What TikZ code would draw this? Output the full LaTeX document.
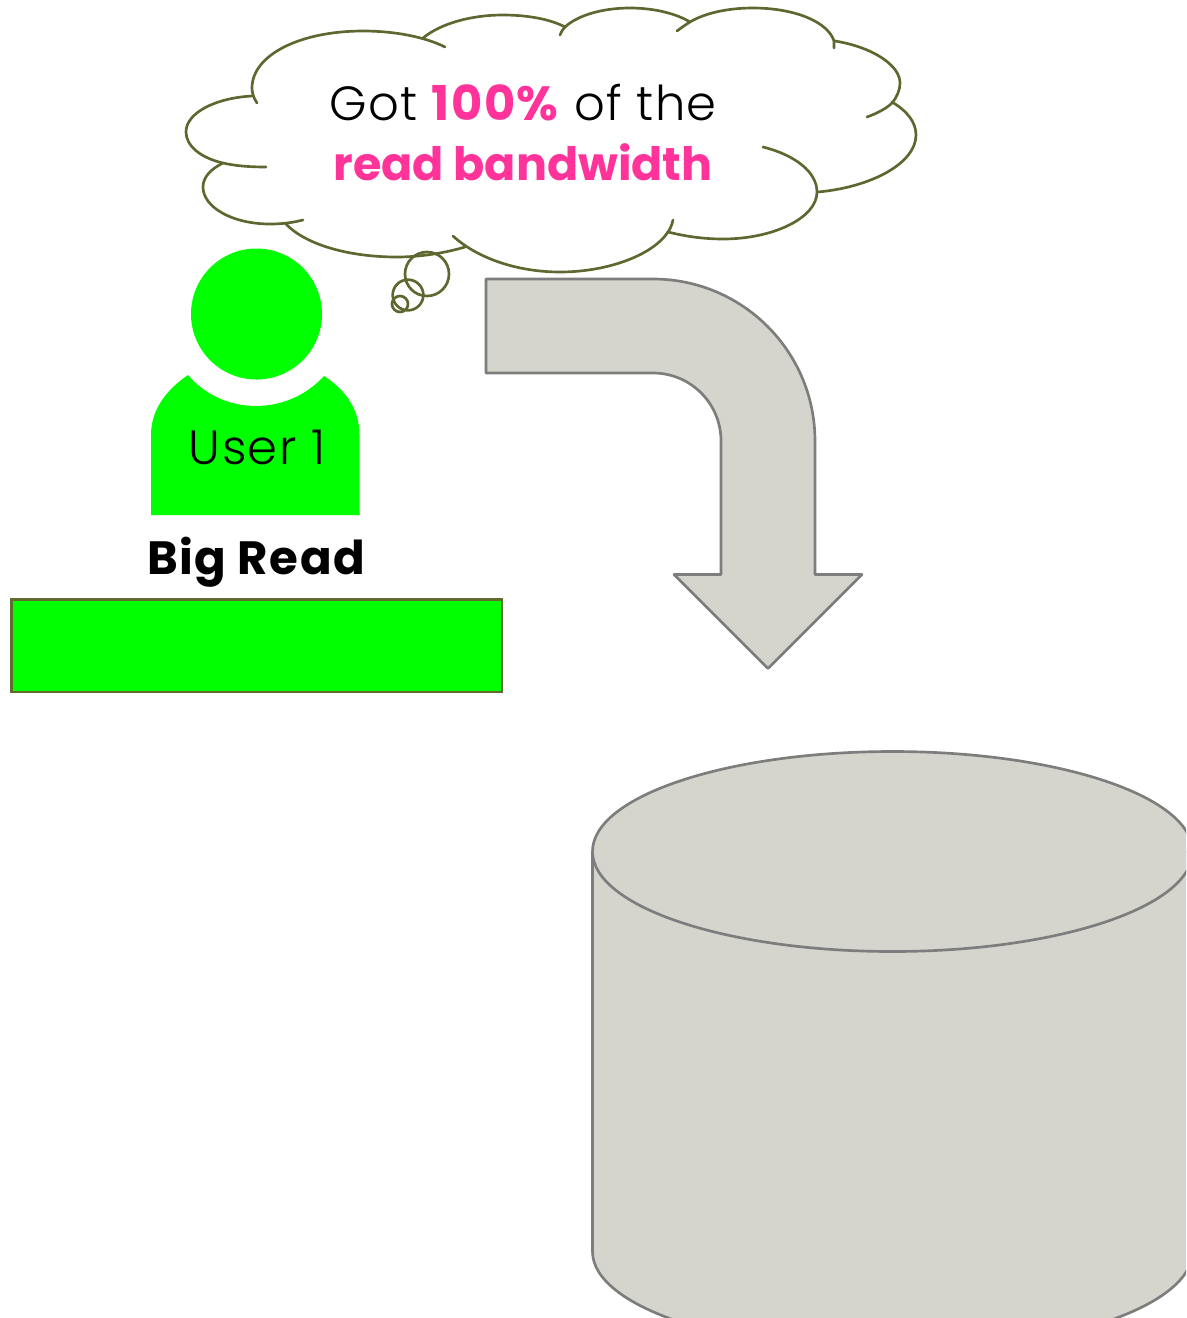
\documentclass[tikz,border=0pt]{standalone}
\usepackage{fontspec}
\setmainfont{Poppins}
\newfontfamily\lightfont{Poppins Light}[BoldFont=Poppins Bold, LetterSpace=2.9]
\newfontfamily\boldfont{Poppins Bold}[LetterSpace=3.3]
\newfontfamily\plainbold{Poppins Bold}
\definecolor{cloudolive}{RGB}{96,102,48}
\definecolor{boxolive}{RGB}{96,108,46}
\definecolor{diskgray}{RGB}{213,213,205}
\definecolor{edgegray}{RGB}{125,125,125}
\definecolor{userlime}{RGB}{0,255,0}
\definecolor{hotpink}{RGB}{255,51,153}
\tikzset{
  lobe/.style={draw=cloudolive, line width=2pt, line cap=round},
  thought/.style={circle, draw=cloudolive, line width=2pt, inner sep=0pt},
  grayshape/.style={draw=edgegray, fill=diskgray, line width=2pt, line join=round},
  lighttext/.style={anchor=base, inner sep=0pt, font=\fontsize{36}{40}\selectfont\lightfont},
  boldtext/.style={anchor=base, inner sep=0pt, font=\fontsize{35}{40}\selectfont\boldfont},
  pinktext/.style={anchor=base, inner sep=0pt, text=hotpink, font=\fontsize{34.5}{40}\selectfont\plainbold}
}
\begin{document}
\begin{tikzpicture}[x=0.75pt, y=-0.75pt]
  \clip (0,0) rectangle (1186,1318);

  % cloud
  \draw[lobe] (257,103) .. controls (253,97) and (252,92) .. (252,88) .. controls (252,55) and (300,31) .. (363,31) .. controls (395,31) and (425,37) .. (445,47);
  \draw[lobe] (423,38) .. controls (440,24) and (470,15) .. (503,15) .. controls (530,15) and (552,20) .. (565,27) .. controls (563,29) and (561,32) .. (560,35);
  \draw[lobe] (565,27) .. controls (578,15) and (603,8) .. (630,8) .. controls (655,8) and (677,14) .. (690,22);
  \draw[lobe] (677,31) .. controls (681,28) and (685,25) .. (690,22) .. controls (705,13) and (728,8) .. (753,8) .. controls (795,8) and (828,22) .. (834,41) .. controls (834,43) and (834,46) .. (834,48);
  \draw[lobe] (835,41) .. controls (872,47) and (900,65) .. (900,83) .. controls (900,90) and (897,97) .. (892,103) .. controls (887,108) and (878,113) .. (867,117);
  \draw[lobe] (892,102) .. controls (907,111) and (916,122) .. (916,135) .. controls (916,163) and (872,187) .. (818,192);
  \draw[lobe] (763,147) .. controls (795,155) and (817,172) .. (817,192) .. controls (817,218) and (773,239) .. (723,239) .. controls (702,239) and (684,236) .. (668,232) .. controls (670,229) and (672,225) .. (673,220);
  \draw[lobe] (668,232) .. controls (652,256) and (606,272) .. (560,272) .. controls (517,272) and (477,258) .. (453,236);
  \draw[lobe] (465,247) .. controls (445,253) and (420,257) .. (397,257) .. controls (345,257) and (303,243) .. (285,223);
  \draw[lobe] (303,220) .. controls (295,222) and (285,224) .. (270,224) .. controls (232,224) and (203,207) .. (203,187) .. controls (203,177) and (211,169) .. (223,163);
  \draw[lobe] (266,167) .. controls (250,167) and (236,166) .. (223,163) .. controls (201,158) and (186,146) .. (186,132) .. controls (186,113) and (215,98) .. (252,96);

  % thought bubbles
  \node[thought, minimum size=33pt] (bubbleA) at (427,274) {};
  \node[thought, minimum size=23pt] (bubbleB) at (408,295) {};
  \node[thought, minimum size=12pt] (bubbleC) at (400,304) {};

  \node[lighttext] (gotline) at (523,120) {Got \textcolor{hotpink}{\textbf{100\%}} of the};
  \node[pinktext] (readline) at (523,180) {read bandwidth};

  % user
  \fill[userlime] (256.5,314) circle[radius=65.5];
  \fill[userlime] (151,515) -- (151,435) .. controls (151,410) and (166,390) .. (188,375) .. controls (205,395) and (230,406) .. (256,406) .. controls (282,406) and (307,395) .. (324,376) .. controls (346,390) and (359.5,410) .. (359.5,435) -- (359.5,515) -- cycle;
  \node[lighttext] (user) at (257,464) {User 1};
  \node[boldtext] (bigread) at (256,574) {Big Read};
  \node[draw=boxolive, fill=userlime, line width=2pt, minimum width=368pt, minimum height=69.5pt, inner sep=0pt] (readbox) at (256.5,645.5) {};

  % arrow
  \draw[grayshape] (486,279) -- (653,279) .. controls (742.5,279) and (815,351.5) .. (815,441) -- (815,574.5) -- (862,574.5) -- (768,668.5) -- (674,574.5) -- (721,574.5) -- (721,441) .. controls (721,403.4) and (690.6,373) .. (653,373) -- (486,373) -- cycle;

  % disk
  \draw[grayshape] (592.5,851.5) -- (592.5,1251.5) arc[start angle=180, end angle=0, x radius=300, y radius=100] -- (1192.5,851.5) -- cycle;
  \draw[grayshape] (892.5,851.5) ellipse[x radius=300, y radius=100];
\end{tikzpicture}
\end{document}
